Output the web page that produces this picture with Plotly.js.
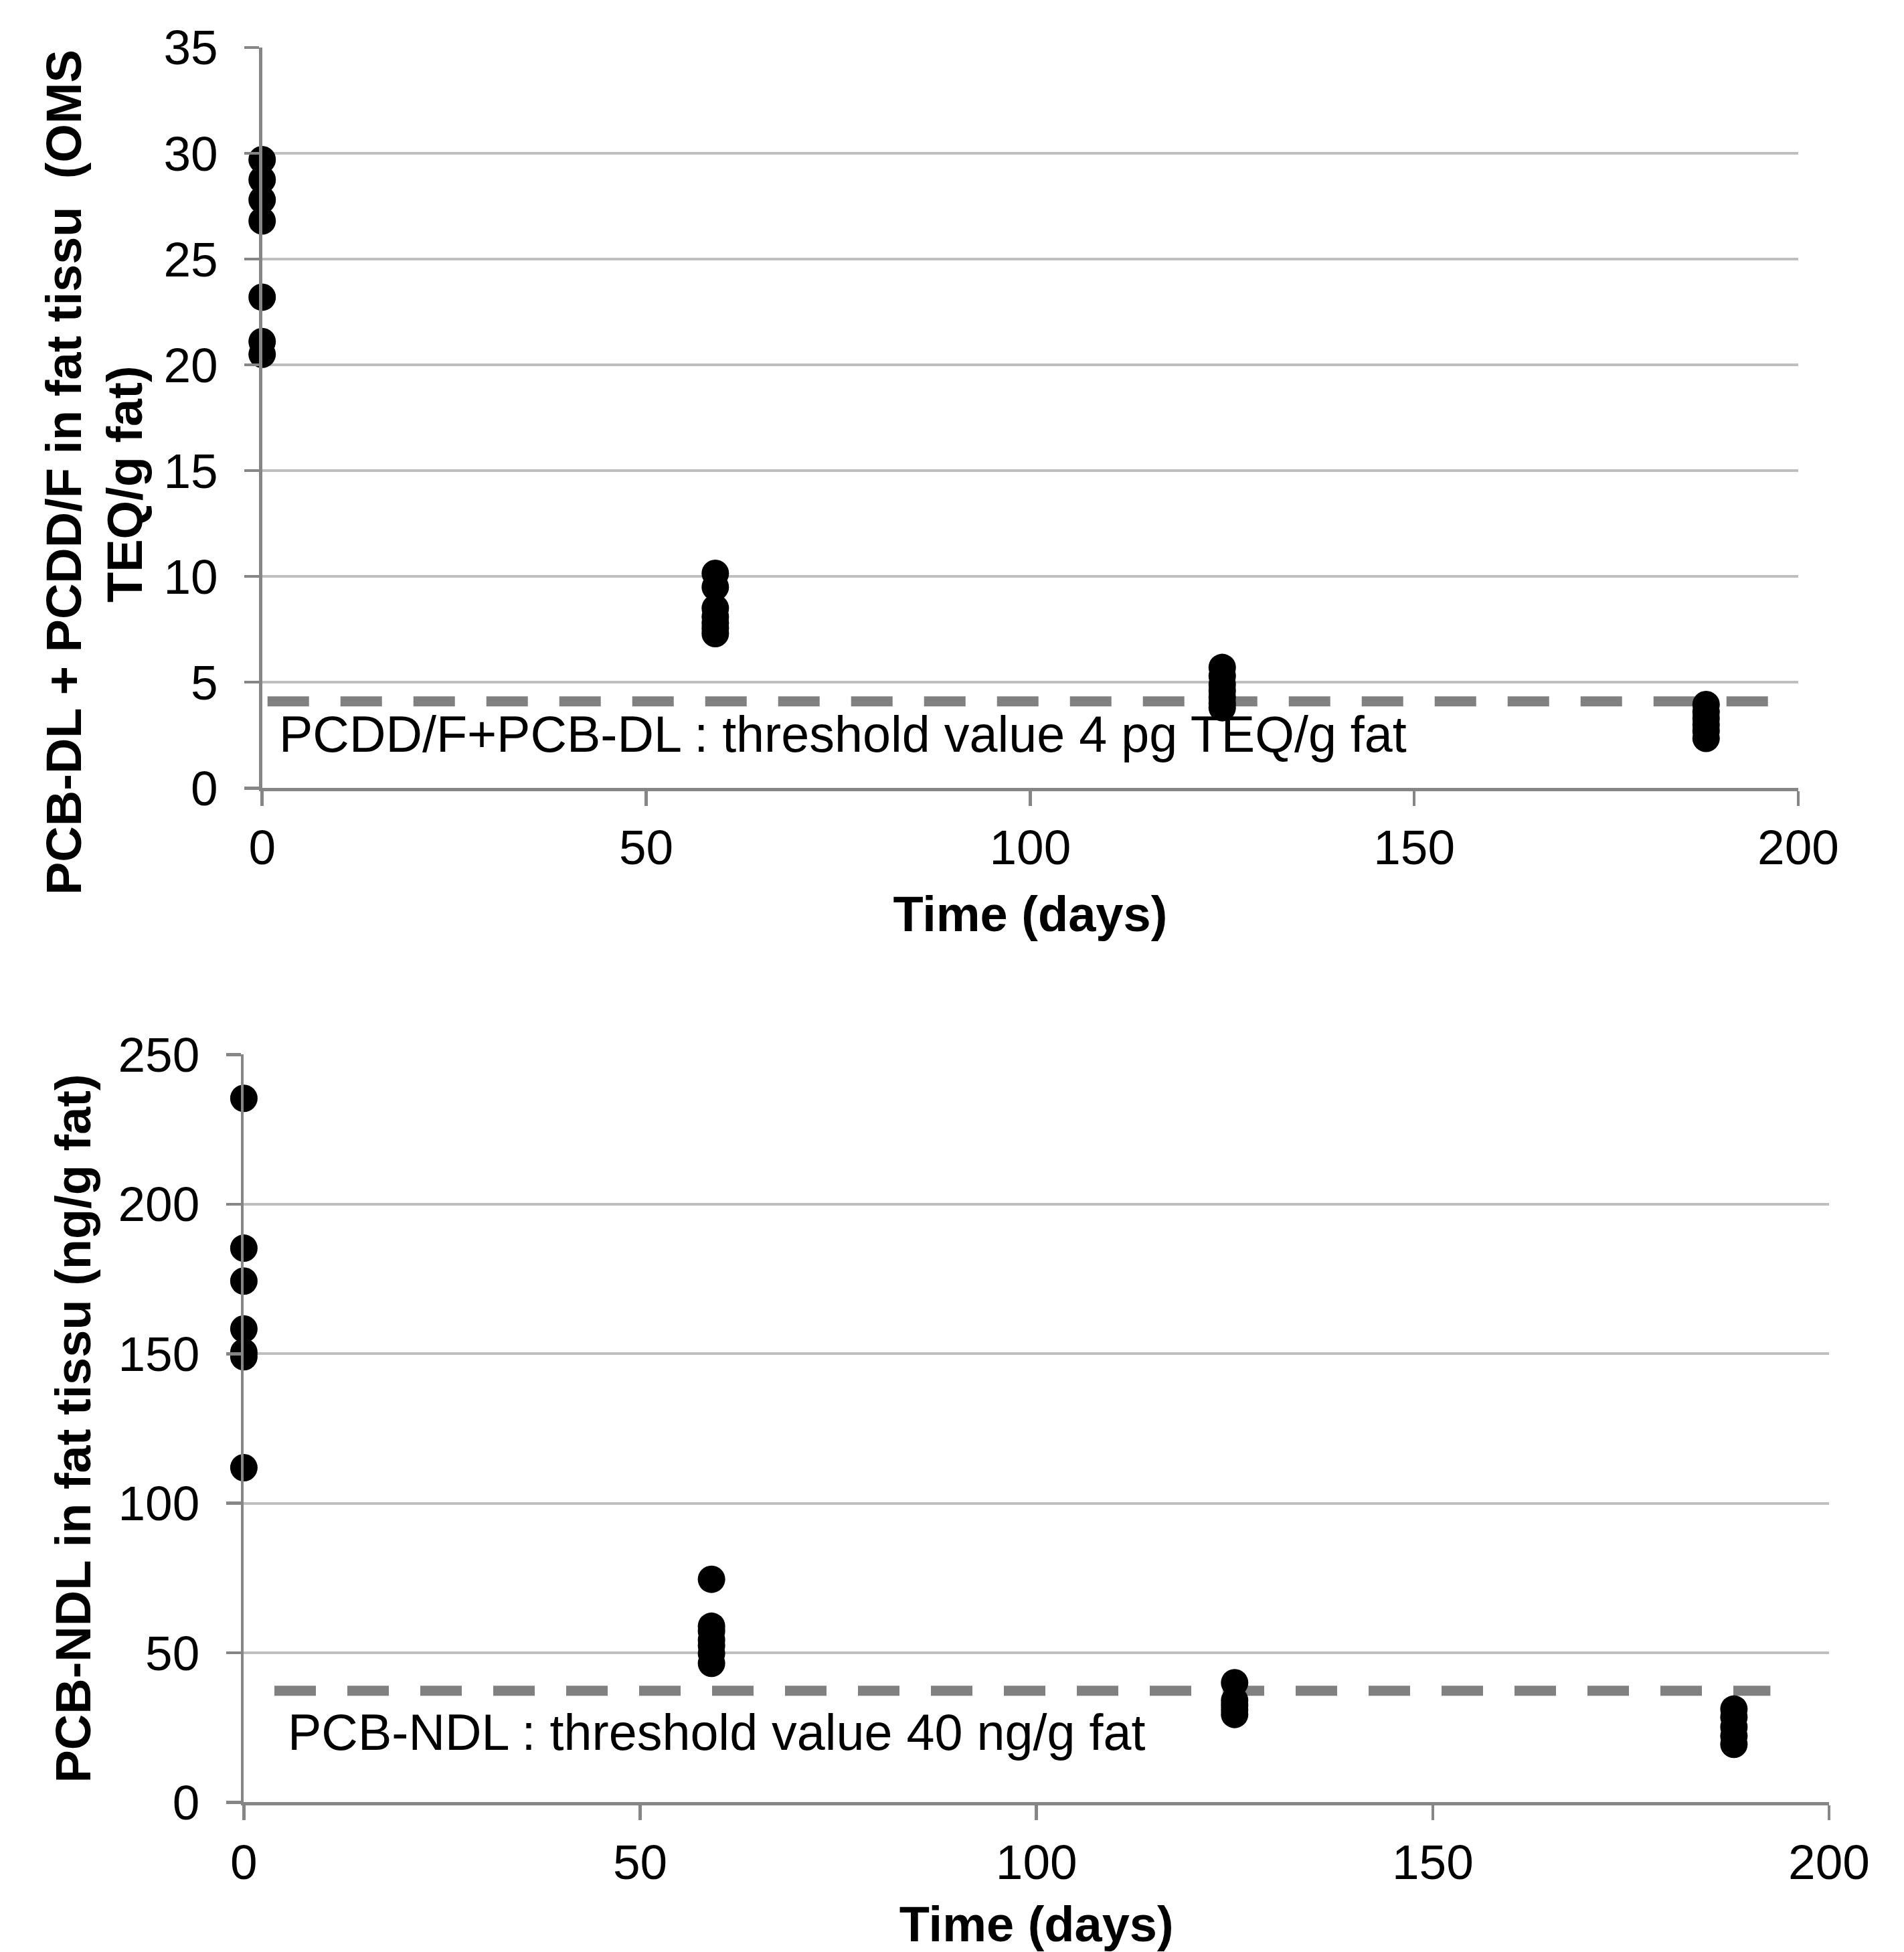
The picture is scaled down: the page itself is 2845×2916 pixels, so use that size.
<!DOCTYPE html>
<html>
<head>
<meta charset="utf-8">
<script src="https://cdn.plot.ly/plotly-3.0.1.min.js"></script>
<style>html,body{margin:0;padding:0;background:#ffffff;}</style>
</head>
<body>
<div id="chart" style="width:2845px;height:2916px;"></div>
<script>
// ---- data ----
const sampleDays = [0, 59, 125, 188];
const teqDay0   = [29.7, 28.75, 27.8, 26.8, 23.2, 21.1, 20.5];
const teqDay59  = [10.15, 9.5, 8.5, 8.1, 7.8, 7.55, 7.3];
const teqDay125 = [5.7, 5.3, 4.9, 4.6, 4.3, 4.0, 3.8];
const teqDay188 = [3.95, 3.6, 3.3, 3.0, 2.7, 2.35];
const ndlDay0   = [235.4, 185.3, 174.3, 158.3, 150.5, 149.0, 111.9];
const ndlDay59  = [74.6, 58.9, 57.3, 54.3, 52.4, 49.8, 46.5];
const ndlDay125 = [40.0, 34.1, 32.5, 31.0, 29.4];
const ndlDay188 = [31.2, 28.5, 25.2, 22.2, 19.4];
const teqThreshold = 4.1;
const ndlThreshold = 37.3;
const teqThresholdDays = [0.7, 202.1];
const ndlThresholdDays = [3.85, 192.6];
const xTickVals = [0, 50, 100, 150, 200];
const teqTickVals = [0, 5, 10, 15, 20, 25, 30, 35];
const ndlTickVals = [0, 50, 100, 150, 200, 250];
const teqLabel = "PCDD/F+PCB-DL : threshold value 4 pg TEQ/g fat";
const ndlLabel = "PCB-NDL : threshold value 40 ng/g fat";
const teqTitleLine1 = "PCB-DL + PCDD/F in fat tissu \u00a0(OMS";
const teqTitleLine2 = "TEQ/g fat)";
const ndlTitle = "PCB-NDL in fat tissu (ng/g fat)";
const xTitle = "Time (days)";

// ---- build traces ----
function flatten(groups) {
  const xs = [], ys = [];
  groups.forEach((vals, i) => vals.forEach(v => { xs.push(sampleDays[i]); ys.push(v); }));
  return {xs, ys};
}
const teq = flatten([teqDay0, teqDay59, teqDay125, teqDay188]);
const ndl = flatten([ndlDay0, ndlDay59, ndlDay125, ndlDay188]);

const FONT = "Liberation Sans, Arial, sans-serif";
const AXC = "#868686";
const GRIDC = "#bfbfbf";
const marker = {size: 41, color: "#000000", line: {width: 0}};

const traces = [
  {x: teq.xs, y: teq.ys, type: "scatter", mode: "markers", marker: marker, cliponaxis: false, xaxis: "x", yaxis: "y", hoverinfo: "x+y"},
  {x: ndl.xs, y: ndl.ys, type: "scatter", mode: "markers", marker: marker, cliponaxis: false, xaxis: "x2", yaxis: "y2", hoverinfo: "x+y"}
];

function xAxis(domain, anchor) {
  return {
    domain: domain, anchor: anchor, range: [0, 200], tickvals: xTickVals,
    ticks: "outside", ticklen: 22, tickwidth: 4.5, tickcolor: AXC,
    showline: true, linecolor: AXC, linewidth: 4.5,
    showgrid: false, zeroline: false, automargin: false,
    tickfont: {family: FONT, size: 73, color: "#000000"},
    title: {text: xTitle, font: {family: FONT, size: 74, color: "#000000", weight: 700}, standoff: 35}
  };
}
function yAxis(domain, anchor, range, ticks) {
  return {
    domain: domain, anchor: anchor, range: range, tickvals: ticks,
    ticks: "outside", ticklen: 22, tickwidth: 4.5, tickcolor: AXC,
    showline: true, linecolor: AXC, linewidth: 4.5,
    showgrid: true, gridcolor: GRIDC, gridwidth: 4, zeroline: false, automargin: false,
    ticklabelstandoff: 25,
    tickfont: {family: FONT, size: 73, color: "#000000"}
  };
}

const yax1 = yAxis([0.59626, 0.97569], "x", [0, 35], teqTickVals);
const yax2 = yAxis([0.07665, 0.45971], "x2", [0, 250], ndlTickVals);
yax2.title = {text: ndlTitle, font: {family: FONT, size: 74, color: "#000000", weight: 700}, standoff: 18};

const dashLine = {color: "#808080", width: 15, dash: "62px,47px"};

const layout = {
  width: 2845, height: 2916,
  margin: {l: 0, r: 0, t: 0, b: 0, pad: 0},
  paper_bgcolor: "#ffffff", plot_bgcolor: "#ffffff",
  showlegend: false,
  font: {family: FONT, color: "#000000"},
  xaxis: xAxis([0.13768, 0.94446], "y"),
  yaxis: yax1,
  xaxis2: xAxis([0.12808, 0.96063], "y2"),
  yaxis2: yax2,
  shapes: [
    {type: "line", xref: "x", yref: "y", x0: teqThresholdDays[0], x1: teqThresholdDays[1], y0: teqThreshold, y1: teqThreshold, line: dashLine, layer: "between"},
    {type: "line", xref: "x2", yref: "y2", x0: ndlThresholdDays[0], x1: ndlThresholdDays[1], y0: ndlThreshold, y1: ndlThreshold, line: dashLine, layer: "between"}
  ],
  annotations: [
    {xref: "x", yref: "y", x: 2.0, y: 2.55, xanchor: "left", yanchor: "middle", text: teqLabel, showarrow: false, font: {family: FONT, size: 75.5, color: "#000000"}},
    {xref: "x2", yref: "y2", x: 5.4, y: 23.4, xanchor: "left", yanchor: "middle", text: ndlLabel, showarrow: false, font: {family: FONT, size: 75.5, color: "#000000"}},
    {xref: "paper", yref: "paper", x: 95 / 2845, y: 1 - 706 / 2916, xanchor: "center", yanchor: "middle", textangle: -90, text: teqTitleLine1, showarrow: false, font: {family: FONT, size: 74, color: "#000000", weight: 700}},
    {xref: "paper", yref: "paper", x: 186 / 2845, y: 1 - 723 / 2916, xanchor: "center", yanchor: "middle", textangle: -90, text: teqTitleLine2, showarrow: false, font: {family: FONT, size: 74, color: "#000000", weight: 700}}
  ]
};

Plotly.newPlot("chart", traces, layout, {displayModeBar: false, staticPlot: true});
</script>
</body>
</html>
